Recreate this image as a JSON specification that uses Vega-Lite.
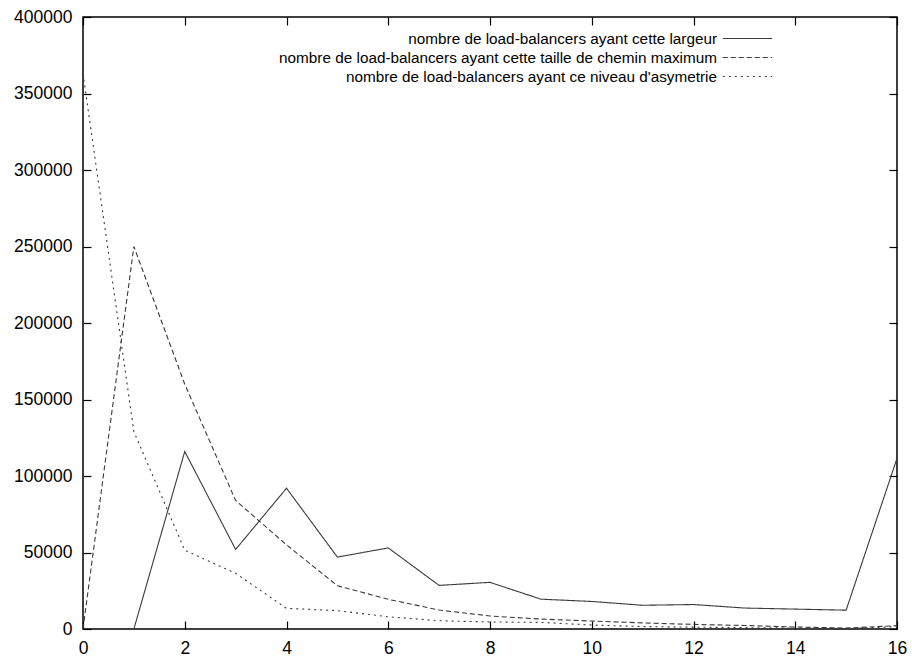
{
  "$schema": "https://vega.github.io/schema/vega-lite/v6.json",
  "width": 814,
  "height": 612,
  "autosize": "none",
  "padding": {"left": 83, "top": 17, "right": 15, "bottom": 28},
  "background": "white",
  "config": {
    "font": "Liberation Sans",
    "view": {"stroke": "#000", "strokeWidth": 1.5},
    "axis": {
      "grid": false,
      "domain": false,
      "tickColor": "#000",
      "tickWidth": 1.2,
      "tickSize": -8,
      "labelFont": "Liberation Sans",
      "labelFontSize": 17.5,
      "labelColor": "#000",
      "title": null
    }
  },
  "datasets": {
    "counts": [
      {"x": 1, "serie": "nombre de load-balancers ayant cette largeur", "n": 0},
      {"x": 2, "serie": "nombre de load-balancers ayant cette largeur", "n": 116000},
      {"x": 3, "serie": "nombre de load-balancers ayant cette largeur", "n": 52000},
      {"x": 4, "serie": "nombre de load-balancers ayant cette largeur", "n": 92000},
      {"x": 5, "serie": "nombre de load-balancers ayant cette largeur", "n": 47000},
      {"x": 6, "serie": "nombre de load-balancers ayant cette largeur", "n": 53000},
      {"x": 7, "serie": "nombre de load-balancers ayant cette largeur", "n": 28500},
      {"x": 8, "serie": "nombre de load-balancers ayant cette largeur", "n": 30500},
      {"x": 9, "serie": "nombre de load-balancers ayant cette largeur", "n": 19500},
      {"x": 10, "serie": "nombre de load-balancers ayant cette largeur", "n": 18000},
      {"x": 11, "serie": "nombre de load-balancers ayant cette largeur", "n": 15500},
      {"x": 12, "serie": "nombre de load-balancers ayant cette largeur", "n": 16000},
      {"x": 13, "serie": "nombre de load-balancers ayant cette largeur", "n": 13700},
      {"x": 14, "serie": "nombre de load-balancers ayant cette largeur", "n": 13000},
      {"x": 15, "serie": "nombre de load-balancers ayant cette largeur", "n": 12300},
      {"x": 16, "serie": "nombre de load-balancers ayant cette largeur", "n": 111500},

      {"x": 0, "serie": "nombre de load-balancers ayant cette taille de chemin maximum", "n": 0},
      {"x": 1, "serie": "nombre de load-balancers ayant cette taille de chemin maximum", "n": 250000},
      {"x": 2, "serie": "nombre de load-balancers ayant cette taille de chemin maximum", "n": 160000},
      {"x": 3, "serie": "nombre de load-balancers ayant cette taille de chemin maximum", "n": 84000},
      {"x": 4, "serie": "nombre de load-balancers ayant cette taille de chemin maximum", "n": 55000},
      {"x": 5, "serie": "nombre de load-balancers ayant cette taille de chemin maximum", "n": 28300},
      {"x": 6, "serie": "nombre de load-balancers ayant cette taille de chemin maximum", "n": 19400},
      {"x": 7, "serie": "nombre de load-balancers ayant cette taille de chemin maximum", "n": 12400},
      {"x": 8, "serie": "nombre de load-balancers ayant cette taille de chemin maximum", "n": 8500},
      {"x": 9, "serie": "nombre de load-balancers ayant cette taille de chemin maximum", "n": 6500},
      {"x": 10, "serie": "nombre de load-balancers ayant cette taille de chemin maximum", "n": 5200},
      {"x": 11, "serie": "nombre de load-balancers ayant cette taille de chemin maximum", "n": 4000},
      {"x": 12, "serie": "nombre de load-balancers ayant cette taille de chemin maximum", "n": 3000},
      {"x": 13, "serie": "nombre de load-balancers ayant cette taille de chemin maximum", "n": 2300},
      {"x": 14, "serie": "nombre de load-balancers ayant cette taille de chemin maximum", "n": 1300},
      {"x": 15, "serie": "nombre de load-balancers ayant cette taille de chemin maximum", "n": 600},
      {"x": 16, "serie": "nombre de load-balancers ayant cette taille de chemin maximum", "n": 2200},

      {"x": 0, "serie": "nombre de load-balancers ayant ce niveau d'asymetrie", "n": 363000},
      {"x": 1, "serie": "nombre de load-balancers ayant ce niveau d'asymetrie", "n": 129000},
      {"x": 2, "serie": "nombre de load-balancers ayant ce niveau d'asymetrie", "n": 51500},
      {"x": 3, "serie": "nombre de load-balancers ayant ce niveau d'asymetrie", "n": 36400},
      {"x": 4, "serie": "nombre de load-balancers ayant ce niveau d'asymetrie", "n": 13500},
      {"x": 5, "serie": "nombre de load-balancers ayant ce niveau d'asymetrie", "n": 12000},
      {"x": 6, "serie": "nombre de load-balancers ayant ce niveau d'asymetrie", "n": 8000},
      {"x": 7, "serie": "nombre de load-balancers ayant ce niveau d'asymetrie", "n": 5400},
      {"x": 8, "serie": "nombre de load-balancers ayant ce niveau d'asymetrie", "n": 4600},
      {"x": 9, "serie": "nombre de load-balancers ayant ce niveau d'asymetrie", "n": 4300},
      {"x": 10, "serie": "nombre de load-balancers ayant ce niveau d'asymetrie", "n": 2600},
      {"x": 11, "serie": "nombre de load-balancers ayant ce niveau d'asymetrie", "n": 1600},
      {"x": 12, "serie": "nombre de load-balancers ayant ce niveau d'asymetrie", "n": 1200},
      {"x": 13, "serie": "nombre de load-balancers ayant ce niveau d'asymetrie", "n": 900},
      {"x": 14, "serie": "nombre de load-balancers ayant ce niveau d'asymetrie", "n": 600},
      {"x": 15, "serie": "nombre de load-balancers ayant ce niveau d'asymetrie", "n": 300},
      {"x": 16, "serie": "nombre de load-balancers ayant ce niveau d'asymetrie", "n": 1500}
    ]
  },
  "data": {"name": "counts"},
  "layer": [
    {
      "mark": {"type": "line", "color": "#3a3a3a", "strokeWidth": 1.1, "clip": true},
      "encoding": {
        "x": {
          "field": "x", "type": "quantitative",
          "scale": {"domain": [0, 16], "nice": false},
          "axis": {"orient": "bottom", "values": [0, 2, 4, 6, 8, 10, 12, 14, 16], "labelPadding": 18, "labelFlush": false}
        },
        "y": {
          "field": "n", "type": "quantitative",
          "scale": {"domain": [0, 400000], "nice": false},
          "axis": {"orient": "left", "values": [0, 50000, 100000, 150000, 200000, 250000, 300000, 350000, 400000], "labelPadding": 19, "format": "d", "labelFlush": false}
        },
        "strokeDash": {
          "field": "serie", "type": "nominal",
          "scale": {
            "domain": [
              "nombre de load-balancers ayant cette largeur",
              "nombre de load-balancers ayant cette taille de chemin maximum",
              "nombre de load-balancers ayant ce niveau d'asymetrie"
            ],
            "range": [[1, 0], [5, 3], [2, 4]]
          },
          "legend": {
            "title": null,
            "orient": "none",
            "legendX": 654,
            "legendY": 11,
            "padding": 0,
            "symbolType": "M -2.6 0 L 2.6 0",
            "symbolSize": 361,
            "symbolStrokeColor": "#3a3a3a",
            "symbolStrokeWidth": 1.1,
            "symbolFillColor": "transparent",
            "labelFont": "Liberation Sans",
            "labelFontSize": 15.3,
            "labelColor": "#000",
            "labelAlign": "right",
            "labelOffset": -41,
            "labelLimit": 0,
            "rowPadding": 0
          }
        },
        "order": {"field": "x", "type": "quantitative"}
      }
    },
    {
      "mark": {"type": "point", "opacity": 0},
      "encoding": {
        "x": {
          "field": "x", "type": "quantitative",
          "axis": {"orient": "top", "values": [0, 2, 4, 6, 8, 10, 12, 14, 16], "labels": false}
        },
        "y": {
          "field": "n", "type": "quantitative",
          "axis": {"orient": "right", "values": [0, 50000, 100000, 150000, 200000, 250000, 300000, 350000, 400000], "labels": false}
        }
      }
    }
  ],
  "resolve": {"axis": {"x": "independent", "y": "independent"}}
}
